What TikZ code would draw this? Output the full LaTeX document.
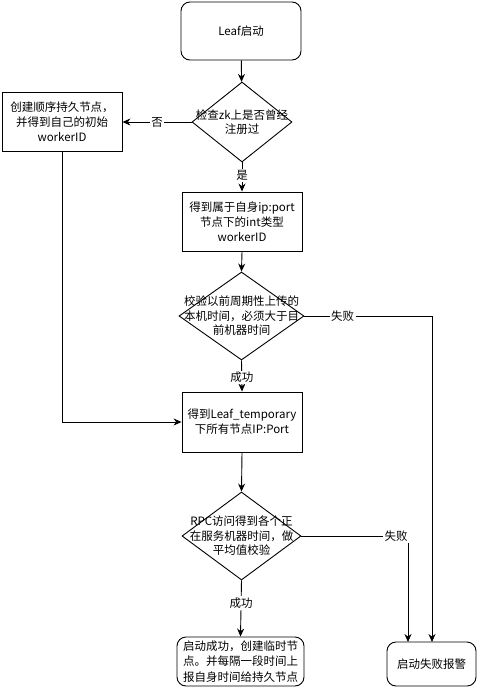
\documentclass[tikz,border=0pt]{standalone}
\usepackage{fontspec}
\setmainfont{Noto Sans CJK SC}
\usetikzlibrary{shapes.geometric,arrows.meta}
\begin{document}
\begin{tikzpicture}[x=1pt,y=-1pt,
  every node/.style={font=\fontsize{11.5}{15}\selectfont},
  box/.style={draw,line width=0.9pt,inner sep=0pt,align=center},
  rbox/.style={box,rounded corners=9pt},
  dia/.style={draw,line width=0.9pt,diamond,inner sep=0pt},
  dtxt/.style={align=center,inner sep=0pt,font=\fontsize{11.5}{14.5}\selectfont},
  arr/.style={line width=0.9pt,-{Stealth[length=8pt,width=7pt]}},
  ln/.style={line width=0.9pt},
  lbl/.style={fill=white,inner sep=1.5pt}]
\useasboundingbox (0,0) rectangle (478,688);
\node[rbox,minimum width=120,minimum height=58] (start) at (241,31) {Leaf启动};
\node[dia,minimum width=100,minimum height=80] (d1) at (242,122) {};
\node[dtxt] (d1t) at (242,122) {检查zk上是否曾经\\注册过};
\node[box,minimum width=120,minimum height=59] (left) at (62,122) {创建顺序持久节点，\\并得到自己的初始\\workerID};
\node[box,minimum width=120,minimum height=59] (b2) at (242,221.5) {得到属于自身ip:port\\节点下的int类型\\workerID};
\node[dia,minimum width=125,minimum height=88] (d2) at (241.5,316) {};
\node[dtxt] (d2t) at (241.5,316) {校验以前周期性上传的\\本机时间，必须大于目\\前机器时间};
\node[box,minimum width=120,minimum height=60] (b3) at (242,422) {得到Leaf\_temporary\\下所有节点IP:Port};
\node[dia,minimum width=119,minimum height=88] (d3) at (241.5,536) {};
\node[dtxt] (d3t) at (241.5,536) {RPC访问得到各个正\\在服务机器时间，做\\平均值校验};
\node[rbox,minimum width=127,minimum height=49,align=left,font=\fontsize{11.5}{15.5}\selectfont] (b4) at (240.5,661.5) {启动成功，创建临时节\\点。并每隔一段时间上\\报自身时间给持久节点};
\node[rbox,minimum width=89,minimum height=44] (b5) at (431.5,664) {启动失败报警};
\coordinate (b5a) at (408,642);
\coordinate (b5b) at (432,642);
\draw[arr] (start) -- (d1);
\draw[arr] (d1.west) -- node[lbl]{否} (left.east);
\draw[arr] (d1.south) -- node[lbl,pos=0.45]{是} (b2.north);
\draw[arr] (b2.south) -- (d2.north);
\draw[arr] (d2.south) -- node[lbl,pos=0.55]{成功} (b3.north);
\draw[arr] (left.south) |- (b3.west);
\draw[arr] (b3.south) -- (d3.north);
\draw[arr] (d3.south) -- node[lbl,pos=0.4]{成功} (b4.north);
\draw[arr] (d2.east) -- node[lbl,pos=0.3]{失败} (d2.east -| b5b) -- (b5b);
\draw[arr] (d3.east) -- (d3.east -| b5a) -- (b5a);
\node[lbl] (f2) at (396,536) {失败};
\end{tikzpicture}
\end{document}
